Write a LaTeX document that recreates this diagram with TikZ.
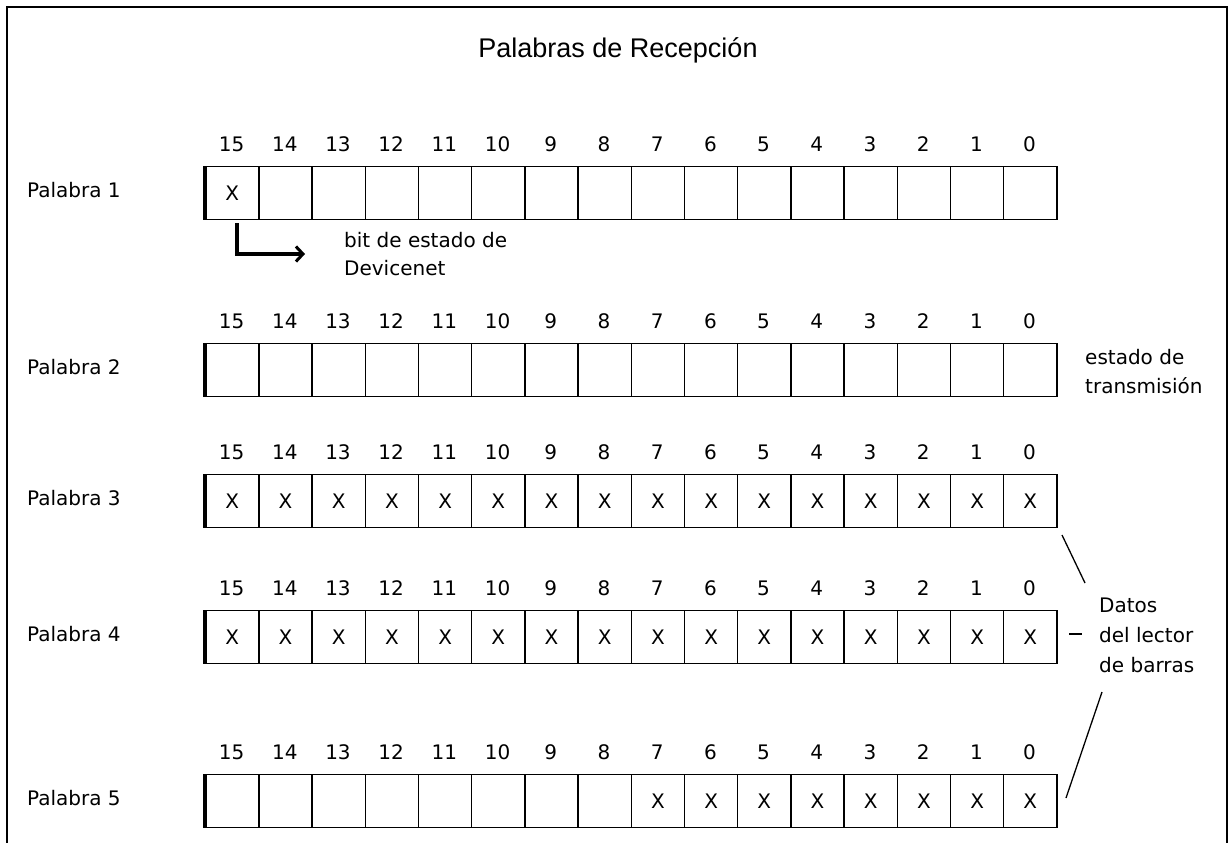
\documentclass[tikz,border=0pt]{standalone}
\usepackage{fontspec}
\setmainfont{DejaVu Sans}
\newfontfamily\titlefont{Liberation Sans}
\usetikzlibrary{arrows.meta,positioning}
\tikzset{
	bitcell/.style={draw, line width=1.4pt, minimum width=53.2pt, minimum height=53pt, inner sep=0pt, anchor=north west, font=\fontsize{20}{24}\selectfont},
	bitnum/.style={font=\fontsize{20}{24}\selectfont, inner sep=0pt, anchor=base},
	rowlabel/.style={anchor=west, inner sep=0pt, font=\fontsize{20}{24}\selectfont},
	note/.style={anchor=west, align=left, inner sep=0pt},
	thinline/.style={line width=1.3pt}
}
% #1 Palabra, #2 Oberkante, #3..#4 Bits mit X
\newcommand{\palabra}[4]{%
	\foreach \b in {15,...,0} {
		\pgfmathtruncatemacro{\hasx}{(\b>=#3)&&(\b<=#4)}
		\node[bitcell] (w#1-\b) at ({205+(15-\b)*53.2},#2) {\ifnum\hasx=1 X\fi};
		\node[bitnum] (n#1-\b) at ({231.6+(15-\b)*53.2},#2-15) {\b};
	}
	\draw[line width=3.5pt] (w#1-15.north west) -- (w#1-15.south west);
	\node[rowlabel] (p#1) at (27,#2+24) {Palabra #1};
}

\begin{document}
\begin{tikzpicture}[x=1pt,y=-1pt]
			\useasboundingbox (0,0) rectangle (1232,843);
			% Rahmen
			\draw[line width=2pt] (7,843) -- (7,7) -- (1227,7) -- (1227,843);
			\node[font=\titlefont\fontsize{27}{32}\selectfont, anchor=base] (titulo) at (618,58) {Palabras de Recepción};
			
			% Palabras
			\palabra{1}{166}{15}{15}
			\palabra{2}{343}{16}{16}
			\palabra{3}{474}{0}{15}
			\palabra{4}{610}{0}{15}
			\palabra{5}{774}{0}{7}
			
			% bit de estado
			\coordinate (flecha) at (305,254);
			\draw[line width=4pt, -{Straight Barb[length=7pt,width=15pt,line width=3pt]}] ([xshift=5pt,yshift=-3pt]w1-15.south) |- (flecha);
			\node[note, font=\fontsize{20}{28}\selectfont] (estado) at (344,254) {bit de estado de\\Devicenet};
			
			% estado de transmision
			\node[note, font=\fontsize{20}{29}\selectfont] (trans) at (1085,372) {estado de\\transmisión};
			
			% Datos del lector
			\node[note, font=\fontsize{20}{30}\selectfont] (datos) at (1099,635) {Datos\\del lector\\de barras};
			\coordinate (l1a) at (1062,535);
			\coordinate (l1b) at (1085,583);
			\coordinate (l2a) at (1069,634);
			\coordinate (l2b) at (1082,634);
			\coordinate (l3a) at (1102,692);
			\coordinate (l3b) at (1066,798);
			\draw[thinline] (l1a) -- (l1b);
			\draw[thinline] (l2a) -- (l2b);
			\draw[thinline] (l3a) -- (l3b);
		\end{tikzpicture}
\end{document}
